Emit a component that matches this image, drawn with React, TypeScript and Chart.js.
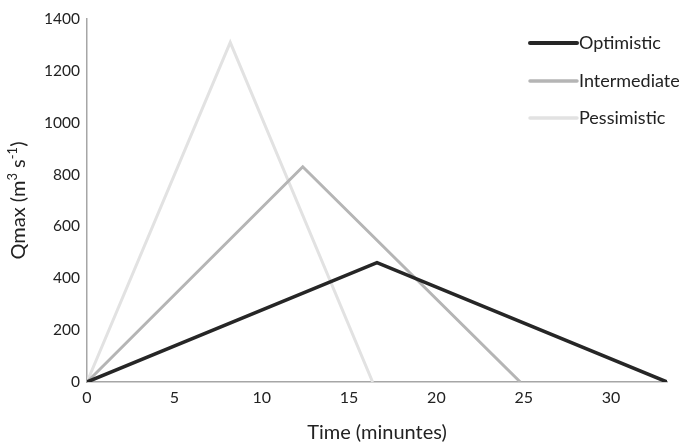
import React, { useEffect, useRef } from "react";
import { Chart, registerables } from "chart.js";

Chart.register(...registerables);

const seriesNames = ["Optimistic", "Intermediate", "Pessimistic"];
const optimisticTime = [0, 16.6, 33.2];
const optimisticQ = [0, 460, 0];
const intermediateTime = [0, 12.35, 24.8];
const intermediateQ = [0, 830, 0];
const pessimisticTime = [0, 8.2, 16.35];
const pessimisticQ = [0, 1310, 0];
const xTicks = [0, 5, 10, 15, 20, 25, 30];
const yTicks = [0, 200, 400, 600, 800, 1000, 1200, 1400];
const yTitleParts: [string, boolean][] = [
  ["Qmax (m", false],
  ["3", true],
  [" s", false],
  ["-1", true],
  [")", false],
];

const colors = ["#262626", "#b5b5b5", "#e2e2e2"];
const widths = [3.5, 3, 3];
const FONT = "Lato, 'Open Sans', sans-serif";

function pts(xs: number[], ys: number[]) {
  return xs.map((x, i) => ({ x, y: ys[i] }));
}

const legendPlugin = {
  id: "customLegend",
  afterDraw(chart: any) {
    const ctx = chart.ctx;
    const x0 = 530;
    const x1 = 577;
    const ys = [43, 81, 118];
    ctx.save();
    chart.data.datasets.forEach((ds: any, i: number) => {
      ctx.beginPath();
      ctx.strokeStyle = ds.borderColor;
      ctx.lineWidth = i === 0 ? 4 : 3.5;
      ctx.lineCap = "round";
      ctx.moveTo(x0, ys[i]);
      ctx.lineTo(x1, ys[i]);
      ctx.stroke();
      ctx.fillStyle = "#222";
      ctx.font = `18px ${FONT}`;
      ctx.textAlign = "left";
      ctx.textBaseline = "middle";
      ctx.fillText(ds.label, x1 + 2, ys[i]);
    });
    ctx.restore();
  },
};

const yTitlePlugin = {
  id: "yTitle",
  afterDraw(chart: any) {
    const ctx = chart.ctx;
    const area = chart.chartArea;
    const big = `20px ${FONT}`;
    const small = `13px ${FONT}`;
    ctx.save();
    let total = 0;
    yTitleParts.forEach(([t, sup]) => {
      ctx.font = sup ? small : big;
      total += ctx.measureText(t).width;
    });
    const cy = (area.top + area.bottom) / 2;
    ctx.translate(25, cy);
    ctx.rotate(-Math.PI / 2);
    ctx.fillStyle = "#222";
    ctx.textBaseline = "alphabetic";
    ctx.textAlign = "left";
    let x = -total / 2;
    yTitleParts.forEach(([t, sup]) => {
      ctx.font = sup ? small : big;
      ctx.fillText(t, x, sup ? -8 : 0);
      x += ctx.measureText(t).width;
    });
    ctx.restore();
  },
};

export default function App() {
  const ref = useRef<HTMLCanvasElement>(null);
  useEffect(() => {
    if (!ref.current) return;
    const data = [
      pts(optimisticTime, optimisticQ),
      pts(intermediateTime, intermediateQ),
      pts(pessimisticTime, pessimisticQ),
    ];
    const chart = new Chart(ref.current, {
      type: "scatter",
      data: {
        datasets: seriesNames.map((name, i) => ({
          label: name,
          data: data[i],
          showLine: true,
          borderColor: colors[i],
          backgroundColor: colors[i],
          borderWidth: widths[i],
          pointRadius: 0,
          pointHoverRadius: 0,
          tension: 0,
          borderJoinStyle: "miter" as const,
        })),
      },
      options: {
        responsive: false,
        animation: false,
        devicePixelRatio: 1,
        layout: { padding: { top: 19, right: 18, left: 0, bottom: 0 } },
        plugins: { legend: { display: false }, tooltip: { enabled: false } },
        scales: {
          x: {
            type: "linear",
            min: 0,
            max: 33.2,
            grid: { display: false, drawTicks: false },
            border: { color: "#a6a6a6", width: 1.5 },
            afterBuildTicks: (s: any) => {
              s.ticks = xTicks.map((v) => ({ value: v }));
            },
            ticks: {
              color: "#222",
              font: { family: FONT, size: 16 },
              padding: 6,
              maxRotation: 0,
              autoSkip: false,
              callback: (v: any) => String(v),
            },
            title: {
              display: true,
              text: "Time (minuntes)",
              color: "#222",
              font: { family: FONT, size: 20 },
              padding: { top: 5, bottom: 0 },
            },
            afterFit: (s: any) => {
              s.height = 63;
            },
          },
          y: {
            type: "linear",
            min: 0,
            max: 1400,
            grid: { display: false, drawTicks: false },
            border: { color: "#a6a6a6", width: 1.5 },
            afterBuildTicks: (s: any) => {
              s.ticks = yTicks.map((v) => ({ value: v }));
            },
            ticks: {
              color: "#222",
              font: { family: FONT, size: 15.5 },
              padding: 7,
              autoSkip: false,
              callback: (v: any) => String(v),
            },
            title: { display: false },
            afterFit: (s: any) => {
              s.width = 87;
            },
          },
        },
      },
      plugins: [legendPlugin, yTitlePlugin],
    });
    return () => chart.destroy();
  }, []);
  return (
    <div style={{ position: "fixed", left: 0, top: 0, width: 685, height: 445, background: "#fff" }}>
      <canvas ref={ref} width={685} height={445} style={{ width: 685, height: 445 }} />
    </div>
  );
}
